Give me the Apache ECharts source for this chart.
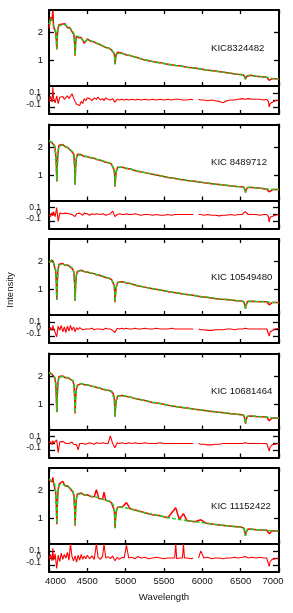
<!DOCTYPE html>
<html><head><meta charset="utf-8">
<script src="https://cdn.jsdelivr.net/npm/echarts@6/dist/echarts.min.js"></script>
<style>html,body{margin:0;padding:0;background:#fff}#c{width:293px;height:613px}</style>
</head><body><div id="c"></div><script>
const starNames = ['KIC8324482', 'KIC 8489712', 'KIC 10549480', 'KIC 10681464', 'KIC 11152422'];

const wavelength = [4000,4020,4040,4050,4060,4075,4088,4096,4102,4108,4116,4130,4150,4180,4210,4240,4270,4292,4310,4325,4335,4341,4347,4356,4370,4390,4420,4460,4500,4550,4590,4618,4650,4700,4718,4740,4780,4815,4840,4852,4858,4862,4867,4876,4895,4920,4960,5010,5060,5150,5250,5350,5450,5550,5653,5700,5754,5800,5900,5980,6050,6150,6250,6350,6450,6510,6540,6555,6563,6571,6590,6630,6700,6780,6840,6862,6872,6885,6910,6960,7000];

const model1 = [2.30,2.50,2.45,2.40,2.25,2.20,2.05,1.70,1.42,1.80,2.15,2.25,2.27,2.26,2.28,2.20,2.15,2.10,2.05,1.95,1.55,1.20,1.60,1.88,1.86,1.84,1.80,1.66,1.75,1.70,1.66,1.63,1.59,1.53,1.51,1.48,1.44,1.39,1.35,1.25,1.05,0.88,1.05,1.22,1.29,1.28,1.25,1.21,1.18,1.10,1.03,0.97,0.92,0.87,0.83,0.81,0.79,0.77,0.73,0.70,0.67,0.63,0.60,0.56,0.52,0.50,0.49,0.42,0.35,0.42,0.47,0.47,0.45,0.43,0.41,0.40,0.39,0.38,0.37,0.36,0.35];
const observed1 = [2.15,2.55,2.42,2.78,2.20,2.24,2.00,1.72,1.40,1.85,2.12,2.28,2.24,2.30,2.31,2.17,2.18,2.07,2.09,1.92,1.58,1.18,1.63,1.86,1.89,1.81,1.82,1.62,1.77,1.68,1.67,1.61,1.60,1.52,1.52,1.47,1.45,1.38,1.36,1.24,1.06,0.87,1.06,1.21,1.30,1.27,1.26,1.20,1.18,1.11,1.02,0.97,0.93,0.87,0.83,0.82,0.79,0.77,0.74,0.70,0.67,0.64,0.60,0.56,0.52,0.51,0.49,0.43,0.34,0.43,0.47,0.48,0.45,0.43,0.41,0.38,0.30,0.33,0.36,0.36,0.35];

const model2 = [2.22,2.20,2.17,2.14,2.10,2.00,1.75,1.30,0.80,1.30,1.80,2.03,2.10,2.07,2.03,1.98,1.93,1.88,1.82,1.70,1.30,0.68,1.25,1.60,1.72,1.75,1.72,1.68,1.65,1.62,1.59,1.57,1.55,1.51,1.49,1.47,1.44,1.40,1.33,1.18,0.90,0.60,0.85,1.12,1.27,1.30,1.28,1.25,1.22,1.15,1.09,1.04,0.98,0.93,0.88,0.86,0.84,0.82,0.78,0.75,0.73,0.69,0.66,0.63,0.60,0.59,0.57,0.48,0.38,0.47,0.56,0.57,0.55,0.53,0.51,0.50,0.50,0.50,0.50,0.49,0.49];
const observed2 = [2.20,2.23,2.15,2.16,2.08,2.03,1.72,1.33,0.78,1.35,1.78,2.06,2.08,2.09,2.01,1.99,1.91,1.89,1.80,1.72,1.28,0.66,1.28,1.58,1.74,1.73,1.73,1.66,1.66,1.61,1.60,1.56,1.55,1.50,1.50,1.46,1.44,1.39,1.34,1.17,0.93,0.59,0.87,1.11,1.28,1.29,1.28,1.24,1.22,1.14,1.09,1.03,0.98,0.92,0.88,0.85,0.84,0.81,0.78,0.75,0.72,0.69,0.66,0.62,0.60,0.59,0.58,0.49,0.39,0.48,0.56,0.56,0.55,0.53,0.50,0.47,0.41,0.45,0.48,0.49,0.49];

const model3 = [1.98,2.02,2.06,2.00,1.96,1.90,1.68,1.20,0.64,1.20,1.70,1.88,1.93,1.91,1.88,1.86,1.84,1.80,1.75,1.60,1.20,0.61,1.15,1.50,1.63,1.67,1.68,1.65,1.62,1.59,1.56,1.54,1.52,1.48,1.46,1.44,1.41,1.37,1.30,1.15,0.85,0.56,0.80,1.08,1.25,1.30,1.28,1.25,1.22,1.15,1.09,1.04,0.99,0.94,0.89,0.87,0.85,0.83,0.79,0.76,0.74,0.70,0.67,0.64,0.61,0.60,0.57,0.45,0.32,0.44,0.58,0.59,0.58,0.58,0.57,0.56,0.56,0.55,0.55,0.54,0.54];
const observed3 = [1.97,2.04,2.05,2.02,1.94,1.92,1.66,1.22,0.63,1.23,1.68,1.90,1.91,1.93,1.86,1.88,1.82,1.82,1.73,1.62,1.18,0.60,1.17,1.48,1.65,1.66,1.69,1.64,1.63,1.58,1.57,1.53,1.52,1.47,1.47,1.43,1.41,1.36,1.31,1.14,0.86,0.55,0.81,1.07,1.26,1.29,1.28,1.24,1.22,1.14,1.09,1.03,0.99,0.93,0.89,0.87,0.84,0.83,0.79,0.75,0.73,0.69,0.66,0.64,0.61,0.60,0.57,0.46,0.33,0.45,0.58,0.59,0.58,0.57,0.57,0.52,0.46,0.52,0.54,0.54,0.54];

const model4 = [2.12,2.10,2.05,2.04,2.02,1.95,1.72,1.25,0.72,1.25,1.75,1.96,2.00,1.98,1.95,1.94,1.92,1.89,1.84,1.68,1.25,0.68,1.20,1.55,1.68,1.72,1.73,1.70,1.68,1.65,1.62,1.60,1.58,1.54,1.53,1.51,1.48,1.44,1.37,1.20,0.88,0.56,0.85,1.12,1.28,1.33,1.31,1.28,1.25,1.19,1.13,1.07,1.02,0.97,0.92,0.90,0.88,0.86,0.82,0.80,0.77,0.74,0.70,0.67,0.64,0.62,0.60,0.45,0.30,0.44,0.57,0.58,0.57,0.55,0.54,0.53,0.53,0.52,0.52,0.51,0.51];
const observed4 = [2.14,2.08,2.07,2.02,2.04,1.93,1.74,1.23,0.71,1.28,1.73,1.98,1.98,2.00,1.94,1.95,1.90,1.90,1.83,1.70,1.23,0.67,1.22,1.53,1.66,1.70,1.74,1.69,1.69,1.64,1.63,1.59,1.58,1.53,1.54,1.50,1.49,1.46,1.36,1.21,0.87,0.55,0.86,1.11,1.29,1.32,1.31,1.27,1.25,1.18,1.13,1.06,1.02,0.96,0.92,0.90,0.87,0.86,0.82,0.79,0.77,0.73,0.70,0.67,0.64,0.62,0.61,0.46,0.31,0.45,0.57,0.58,0.56,0.55,0.54,0.49,0.41,0.48,0.51,0.51,0.51];

const model5 = [2.40,2.38,2.34,2.32,2.30,2.22,1.95,1.40,0.82,1.40,1.95,2.20,2.24,2.22,2.18,2.14,2.10,2.05,1.98,1.80,1.35,0.76,1.30,1.70,1.86,1.90,1.89,1.86,1.83,1.80,1.78,1.76,1.73,1.69,1.68,1.66,1.62,1.57,1.48,1.30,0.98,0.67,0.95,1.25,1.40,1.43,1.41,1.38,1.35,1.28,1.21,1.15,1.10,1.04,0.99,0.97,0.95,0.93,0.89,0.87,0.84,0.80,0.77,0.74,0.71,0.69,0.66,0.52,0.39,0.50,0.62,0.62,0.61,0.60,0.59,0.58,0.58,0.57,0.57,0.56,0.55];
const observed5 = [2.38,2.42,2.31,2.47,2.27,2.25,1.92,1.43,0.80,1.44,1.92,2.23,2.21,2.33,2.16,2.17,2.08,2.12,1.96,1.83,1.32,0.75,1.33,1.68,1.88,1.88,1.91,1.84,1.85,1.78,1.79,2.03,1.72,1.70,1.94,1.65,1.63,1.56,1.49,1.29,0.99,0.66,0.96,1.24,1.41,1.42,1.42,1.57,1.35,1.29,1.21,1.14,1.10,1.03,1.39,0.97,1.18,0.93,0.89,0.96,0.84,0.80,0.77,0.74,0.71,0.70,0.66,0.53,0.40,0.51,0.62,0.63,0.61,0.60,0.59,0.54,0.47,0.53,0.56,0.56,0.55];

const residWavelength = [4000,4020,4040,4050,4060,4080,4100,4120,4140,4160,4180,4200,4220,4240,4260,4280,4300,4320,4340,4360,4380,4400,4420,4440,4460,4480,4500,
4530,4560,4590,4618,4640,4670,4700,4718,4740,4770,4800,4830,4860,4890,4920,4950,4980,5010,5040,
5080,5120,5160,5200,5250,5300,5350,5400,5450,5500,5550,5600,5640,5653,5666,5700,5741,5754,5767,5800,5850,5880,5910,5950,5980,6020,6070,6120,6170,6220,6270,6320,6370,6420,6470,6520,6560,6600,6650,6700,6750,6800,6840,6862,6872,6885,6910,6950,7000];

const resid1 = [-0.02,0.05,-0.03,0.18,0.03,-0.04,0.06,-0.05,0.04,0.02,0.05,0.01,0.03,0.06,0.02,0.04,0.09,0.03,-0.02,-0.06,-0.04,-0.08,-0.02,-0.05,0.02,-0.01,0.03,
0.02,-0.01,0.03,0.01,0.04,0.0,0.02,-0.01,0.03,0.01,0.0,0.02,-0.03,0.01,0.0,0.01,0.0,0.01,0.0,
0.01,0.0,0.01,0.0,0.01,0.0,0.01,0.0,0.01,0.0,0.01,0.0,0.01,0.0,0.0,0.01,0.0,0.0,0.01,0.0,0.01,0.0,null,0.01,0.0,0.0,-0.01,0.0,-0.01,-0.02,-0.04,-0.01,0.0,0.0,0.01,0.02,0.01,0.02,0.01,0.01,0.01,0.0,0.01,-0.02,-0.1,-0.05,-0.03,-0.01,0.0];
const resid2 = [0.0,-0.03,0.03,-0.02,0.04,-0.03,0.1,-0.1,0.02,0.0,0.01,-0.01,0.02,0.0,0.01,-0.01,0.0,0.02,-0.03,0.01,0.0,0.02,0.01,-0.01,0.02,0.0,0.01,
-0.01,0.01,0.0,0.01,-0.01,0.0,0.01,0.0,-0.01,0.0,0.01,0.05,-0.03,0.0,0.01,0.0,0.0,0.01,0.0,
0.0,0.01,0.0,-0.01,0.0,0.0,-0.01,0.0,-0.01,-0.01,0.0,-0.01,0.0,0.0,-0.01,0.0,0.0,-0.01,0.0,0.0,0.0,0.0,null,0.0,0.0,-0.01,0.0,-0.01,-0.01,-0.02,-0.01,-0.01,0.0,-0.01,0.0,0.0,0.04,0.0,0.0,0.0,-0.01,0.0,0.0,-0.03,-0.11,-0.04,-0.02,-0.01,0.0];
const resid3 = [-0.01,0.02,-0.02,0.05,0.01,0.03,-0.11,0.04,-0.02,0.05,-0.04,0.03,-0.05,0.04,-0.03,0.05,-0.02,0.03,-0.04,0.02,-0.01,0.02,0.0,-0.01,0.01,0.0,0.01,
0.0,0.01,-0.01,0.0,0.01,0.0,-0.01,0.0,0.01,0.0,0.0,-0.02,-0.05,0.01,0.0,0.01,0.0,0.01,0.0,
0.0,0.01,0.0,0.0,0.01,0.0,0.0,0.01,0.0,0.0,0.0,0.01,0.0,0.0,0.01,0.0,0.0,0.0,0.01,0.0,0.0,0.0,null,0.0,-0.01,-0.01,-0.02,-0.02,-0.01,-0.01,-0.01,0.0,0.0,-0.01,0.0,0.0,0.01,0.0,0.0,0.0,0.0,0.0,0.0,-0.02,-0.1,-0.04,-0.02,0.0,0.01];
const resid4 = [0.0,0.03,-0.02,0.04,0.01,0.03,0.05,-0.13,0.02,0.0,0.03,0.01,0.0,0.02,0.0,0.01,0.02,-0.01,0.01,-0.02,-0.09,0.0,0.01,0.0,0.02,-0.01,0.0,
0.01,0.0,-0.01,0.01,0.0,0.0,0.01,-0.01,0.0,0.0,0.11,0.0,-0.06,0.01,0.0,0.01,0.0,0.0,0.01,
0.0,0.01,0.0,0.0,0.01,0.0,0.0,0.0,0.01,0.0,0.0,0.0,0.0,0.01,0.0,0.0,0.0,0.01,0.0,0.0,0.0,0.0,null,0.0,-0.01,-0.01,-0.02,-0.02,-0.01,-0.01,0.0,0.0,0.0,0.0,0.0,0.0,0.01,0.0,0.0,0.0,0.0,0.0,0.0,-0.02,-0.11,-0.05,-0.02,-0.01,0.0];
const resid5 = [-0.02,0.05,-0.04,0.14,-0.03,0.06,-0.15,0.04,-0.05,0.07,-0.02,0.05,0.0,0.08,-0.03,0.2,0.02,-0.04,0.03,-0.06,0.04,-0.03,0.05,-0.02,0.03,-0.01,0.04,
-0.01,0.03,-0.02,0.2,0.01,-0.02,0.03,0.2,0.0,0.02,-0.01,0.03,-0.04,0.01,-0.02,0.01,0.0,0.18,0.0,
0.01,-0.01,0.02,0.0,0.01,-0.01,0.0,0.01,0.0,-0.01,0.0,0.0,0.0,0.2,-0.01,0.0,0.0,0.2,0.0,0.0,-0.01,0.0,null,0.0,0.1,0.0,0.01,-0.01,0.0,0.0,-0.01,0.0,0.0,0.01,0.0,0.01,0.02,0.0,0.01,0.0,0.01,0.0,0.0,-0.02,-0.12,-0.05,-0.02,-0.01,0.0];

const xTicks = [4000, 4500, 5000, 5500, 6000, 6500, 7000];
const mainTicks = [1, 2];
const residTicks = [-0.1, 0, 0.1];

const models = [model1, model2, model3, model4, model5];
const observeds = [observed1, observed2, observed3, observed4, observed5];
const resids = [resid1, resid2, resid3, resid4, resid5];

const FONT = 'Liberation Sans, Arial, Helvetica, sans-serif';
const L = 49, R = 14, TOP0 = 10, STEP = 114.5, HM = 76, HR = 28;
const grids = [], xAxes = [], yAxes = [], series = [], graphics = [];
const lineBlack = {color: '#000', width: 2};
const tickStyle = {color: '#000', width: 1.3};

function addGrid(top, height, isMain, isLast) {
  const g = grids.length;
  grids.push({left: L, right: R, top: top, height: height});
  const xBase = {
    gridIndex: g, type: 'value', min: 4000, max: 7000,
    axisLine: {show: true, onZero: false, lineStyle: lineBlack},
    splitLine: {show: false}
  };
  xAxes.push(Object.assign({}, xBase, {
    position: 'bottom',
    axisTick: {show: true, inside: true, length: 4, customValues: xTicks, lineStyle: tickStyle},
    axisLabel: {
      show: isLast, customValues: xTicks, margin: 4, color: '#111', fontFamily: FONT, fontSize: 9.5,
      hideOverlap: false,
      formatter: function (v) {
        if (v === 4000) return '{l|' + v + '}';
        if (v === 7000) return '{r|' + v + '}';
        return '{n|' + v + '}';
      },
      rich: {
        l: {padding: [0, 0, 0, 13], fontSize: 9.5, fontFamily: FONT, color: '#111'},
        r: {padding: [0, 12, 0, 0], fontSize: 9.5, fontFamily: FONT, color: '#111'},
        n: {fontSize: 9.5, fontFamily: FONT, color: '#111'}
      }
    }
  }));
  xAxes.push(Object.assign({}, xBase, {
    position: 'top',
    axisTick: {show: isMain, inside: true, length: 4, customValues: xTicks, lineStyle: tickStyle},
    axisLabel: {show: false}
  }));
  const yBase = {
    gridIndex: g, type: 'value',
    min: isMain ? 0.1 : -0.2, max: isMain ? 2.8 : 0.2,
    axisLine: {show: true, onZero: false, lineStyle: lineBlack},
    splitLine: {show: false}
  };
  if (isMain) {
    yAxes.push(Object.assign({}, yBase, {
      position: 'left',
      axisTick: {show: true, inside: true, length: 5, customValues: mainTicks, lineStyle: tickStyle},
      axisLabel: {show: true, customValues: mainTicks, margin: 6, color: '#111', fontFamily: FONT,
        fontSize: 9.5, hideOverlap: false, formatter: function (v) { return String(v); }}
    }));
    yAxes.push(Object.assign({}, yBase, {
      position: 'right',
      axisTick: {show: true, inside: true, length: 5, customValues: mainTicks, lineStyle: tickStyle},
      axisLabel: {show: false}
    }));
  } else {
    // left axis: ticks for all residual values, label for the first one
    yAxes.push(Object.assign({}, yBase, {
      position: 'left',
      axisTick: {show: true, inside: true, length: 6, customValues: residTicks, lineStyle: tickStyle},
      axisLabel: {show: true, customValues: [residTicks[2]], margin: 8, color: '#111', fontFamily: FONT,
        fontSize: 8.5, hideOverlap: false, formatter: function (v) { return String(v); }}
    }));
    yAxes.push(Object.assign({}, yBase, {
      position: 'right',
      axisTick: {show: true, inside: true, length: 6, customValues: residTicks, lineStyle: tickStyle},
      axisLabel: {show: false}
    }));
    // extra overlapping left axes that only carry the other residual labels
    [residTicks[1], residTicks[0]].forEach(function (val, j) {
      yAxes.push(Object.assign({}, yBase, {
        position: 'left', offset: 0,
        axisLine: {show: false, onZero: false}, axisTick: {show: false},
        axisLabel: {show: true, customValues: [val], margin: 8, color: '#111', fontFamily: FONT,
          fontSize: 8.5, hideOverlap: false,
          formatter: function (v) { return j === 0 ? '{a|' + v + '}' : '{b|' + v + '}'; },
          rich: {
            a: {fontSize: 8.5, fontFamily: FONT, color: '#111', padding: [0, 0, 3, 0]},
            b: {fontSize: 8.5, fontFamily: FONT, color: '#111', padding: [0, 0, 5, 0]}
          }}
      }));
    });
  }
  return g;
}

let yIdx = 0;
for (let p = 0; p < 5; p++) {
  const top = TOP0 + STEP * p;
  const yMainIdx = yAxes.length;
  const gm = addGrid(top, HM, true, false);
  series.push({
    type: 'line', xAxisIndex: 2 * gm, yAxisIndex: yMainIdx, silent: true, symbol: 'none', z: 2,
    data: wavelength.map((w, k) => [w, observeds[p][k]]),
    lineStyle: {color: '#ff0000', width: 1.5}
  });
  series.push({
    type: 'line', xAxisIndex: 2 * gm, yAxisIndex: yMainIdx, silent: true, symbol: 'none', z: 3,
    data: wavelength.map((w, k) => [w, models[p][k]]),
    lineStyle: {color: '#1fcc1f', width: 1.5, type: [4, 2]}
  });
  const yResIdx = yAxes.length;
  const gr = addGrid(top + HM, HR, false, p === 4);
  series.push({
    type: 'line', xAxisIndex: 2 * gr, yAxisIndex: yResIdx, silent: true, symbol: 'none', z: 2,
    connectNulls: false,
    data: residWavelength.map((w, k) => [w, resids[p][k]]),
    lineStyle: {color: '#ff0000', width: 1.1}
  });
  graphics.push({
    type: 'text', x: 211, y: top + 38,
    style: {text: starNames[p], fontSize: 9.6, fontFamily: FONT, fill: '#111', align: 'left', verticalAlign: 'middle'}
  });
}
graphics.push({
  type: 'text', x: 164, y: 597,
  style: {text: 'Wavelength', fontSize: 9.6, fontFamily: FONT, fill: '#111', align: 'center', verticalAlign: 'middle'}
});
graphics.push({
  type: 'text', x: 10, y: 290, rotation: Math.PI / 2,
  style: {text: 'Intensity', fontSize: 9.5, fontFamily: FONT, fill: '#111', align: 'center', verticalAlign: 'middle'}
});

const chart = echarts.init(document.getElementById('c'), null, {renderer: 'canvas'});
chart.setOption({
  animation: false,
  backgroundColor: '#fff',
  grid: grids, xAxis: xAxes, yAxis: yAxes, series: series, graphic: graphics
});
</script></body></html>
